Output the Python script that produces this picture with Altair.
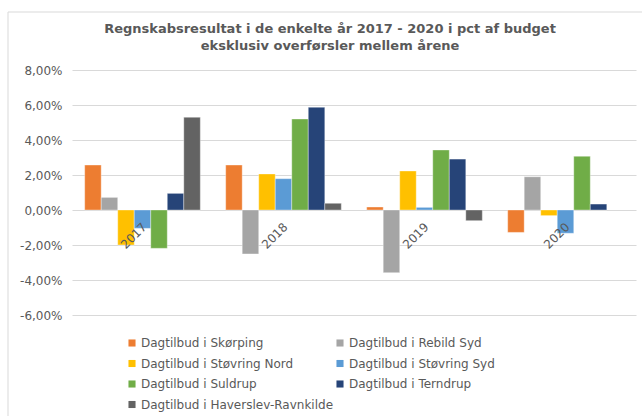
import altair as alt
import pandas as pd

years = ["2017", "2018", "2019", "2020"]
series = [
    "Dagtilbud i Skørping",
    "Dagtilbud i Rebild Syd",
    "Dagtilbud i Støvring Nord",
    "Dagtilbud i Støvring Syd",
    "Dagtilbud i Suldrup",
    "Dagtilbud i Terndrup",
    "Dagtilbud i Haverslev-Ravnkilde",
]
colors = ["#ED7D31", "#A5A5A5", "#FFC000", "#5B9BD5", "#70AD47", "#264478", "#636363"]

skorping = [2.57, 2.57, 0.17, -1.28]
rebild_syd = [0.72, -2.51, -3.58, 1.90]
stovring_nord = [-2.00, 2.06, 2.23, -0.32]
stovring_syd = [-1.05, 1.79, 0.15, -1.33]
suldrup = [-2.19, 5.20, 3.43, 3.07]
terndrup = [0.95, 5.87, 2.91, 0.34]
haverslev = [5.30, 0.38, -0.61, None]

y_ticks = [-6, -4, -2, 0, 2, 4, 6, 8]

all_vals = [skorping, rebild_syd, stovring_nord, stovring_syd, suldrup, terndrup, haverslev]
rows = []
for s, vals in zip(series, all_vals):
    for y, v in zip(years, vals):
        if v is not None:
            rows.append({"year": y, "series": s, "value": v})
df = pd.DataFrame(rows)
years_df = pd.DataFrame({"year": years, "zero": [0] * len(years)})
frame_df = pd.DataFrame({"frame": [1]})

# legend is filled column by column: order entries so rows read like the reference
legend_order = [series[0], series[2], series[4], series[6], series[1], series[3], series[5]]

FONT = "DejaVu Sans"
TXT = "#595959"

xscale = alt.Scale(domain=years, paddingInner=0.18, paddingOuter=0.09)
yscale = alt.Scale(domain=[-6, 8], nice=False)
yaxis = alt.Axis(values=y_ticks, domain=False, ticks=False,
                 grid=True, gridColor="#d9d9d9", gridWidth=1, labelPadding=10,
                 labelOverlap=False, labelBound=False, labelFlush=False,
                 labelColor=TXT, labelFont=FONT, labelFontSize=12, title=None,
                 labelExpr="replace(replace(format(datum.value/100, '.2%'), '.', ','), '\u2212', '-')")

bars = alt.Chart(df).mark_bar(stroke="white", strokeWidth=0.6, strokeOpacity=0.6).encode(
    x=alt.X("year:N", scale=xscale, axis=None),
    xOffset=alt.XOffset("series:N", sort=series, scale=alt.Scale(domain=series, paddingInner=0, paddingOuter=0)),
    y=alt.Y("value:Q", scale=yscale, axis=yaxis),
    y2=alt.datum(0),
    color=alt.Color("series:N", sort=series, scale=alt.Scale(domain=series, range=colors),
                    legend=alt.Legend(title=None, orient="none", legendX=54, legendY=267,
                                      values=legend_order,
                                      columns=2, columnPadding=-8, rowPadding=8.5,
                                      symbolType="square", symbolSize=50, symbolStrokeWidth=0,
                                      labelFont=FONT, labelFontSize=12, labelColor=TXT,
                                      labelLimit=300, symbolOffset=0, labelOffset=3)),
)

labels = alt.Chart(years_df).mark_text(
    angle=315, align="right", baseline="middle", xOffset=2, yOffset=15,
    font=FONT, fontSize=12, color=TXT
).encode(
    x=alt.X("year:N", scale=xscale, axis=None),
    y=alt.Y("zero:Q", scale=yscale, axis=yaxis),
    text="year:N",
)

border = alt.Chart(frame_df).mark_rect(fillOpacity=0, stroke="#d9d9d9", strokeWidth=1).encode(
    x=alt.value(-64), x2=alt.value(578), y=alt.value(-58), y2=alt.value(350)
)

chart = alt.layer(border, bars, labels).properties(
    width=564, height=245,
    background="white",
    title=alt.Title(
        ["Regnskabsresultat  i de enkelte år 2017 - 2020 i pct af budget",
         "eksklusiv  overførsler  mellem årene"],
        font=FONT, fontSize=13, fontWeight="bold", color=TXT, anchor="middle",
        dx=-24, offset=-41, lineHeight=17),
    autosize=alt.AutoSizeParams(type="none"),
    padding={"left": 72, "top": 70, "right": 6, "bottom": 101},
).configure_view(stroke="transparent")

chart.save("out.html", embed_options={"renderer": "svg", "actions": False})
